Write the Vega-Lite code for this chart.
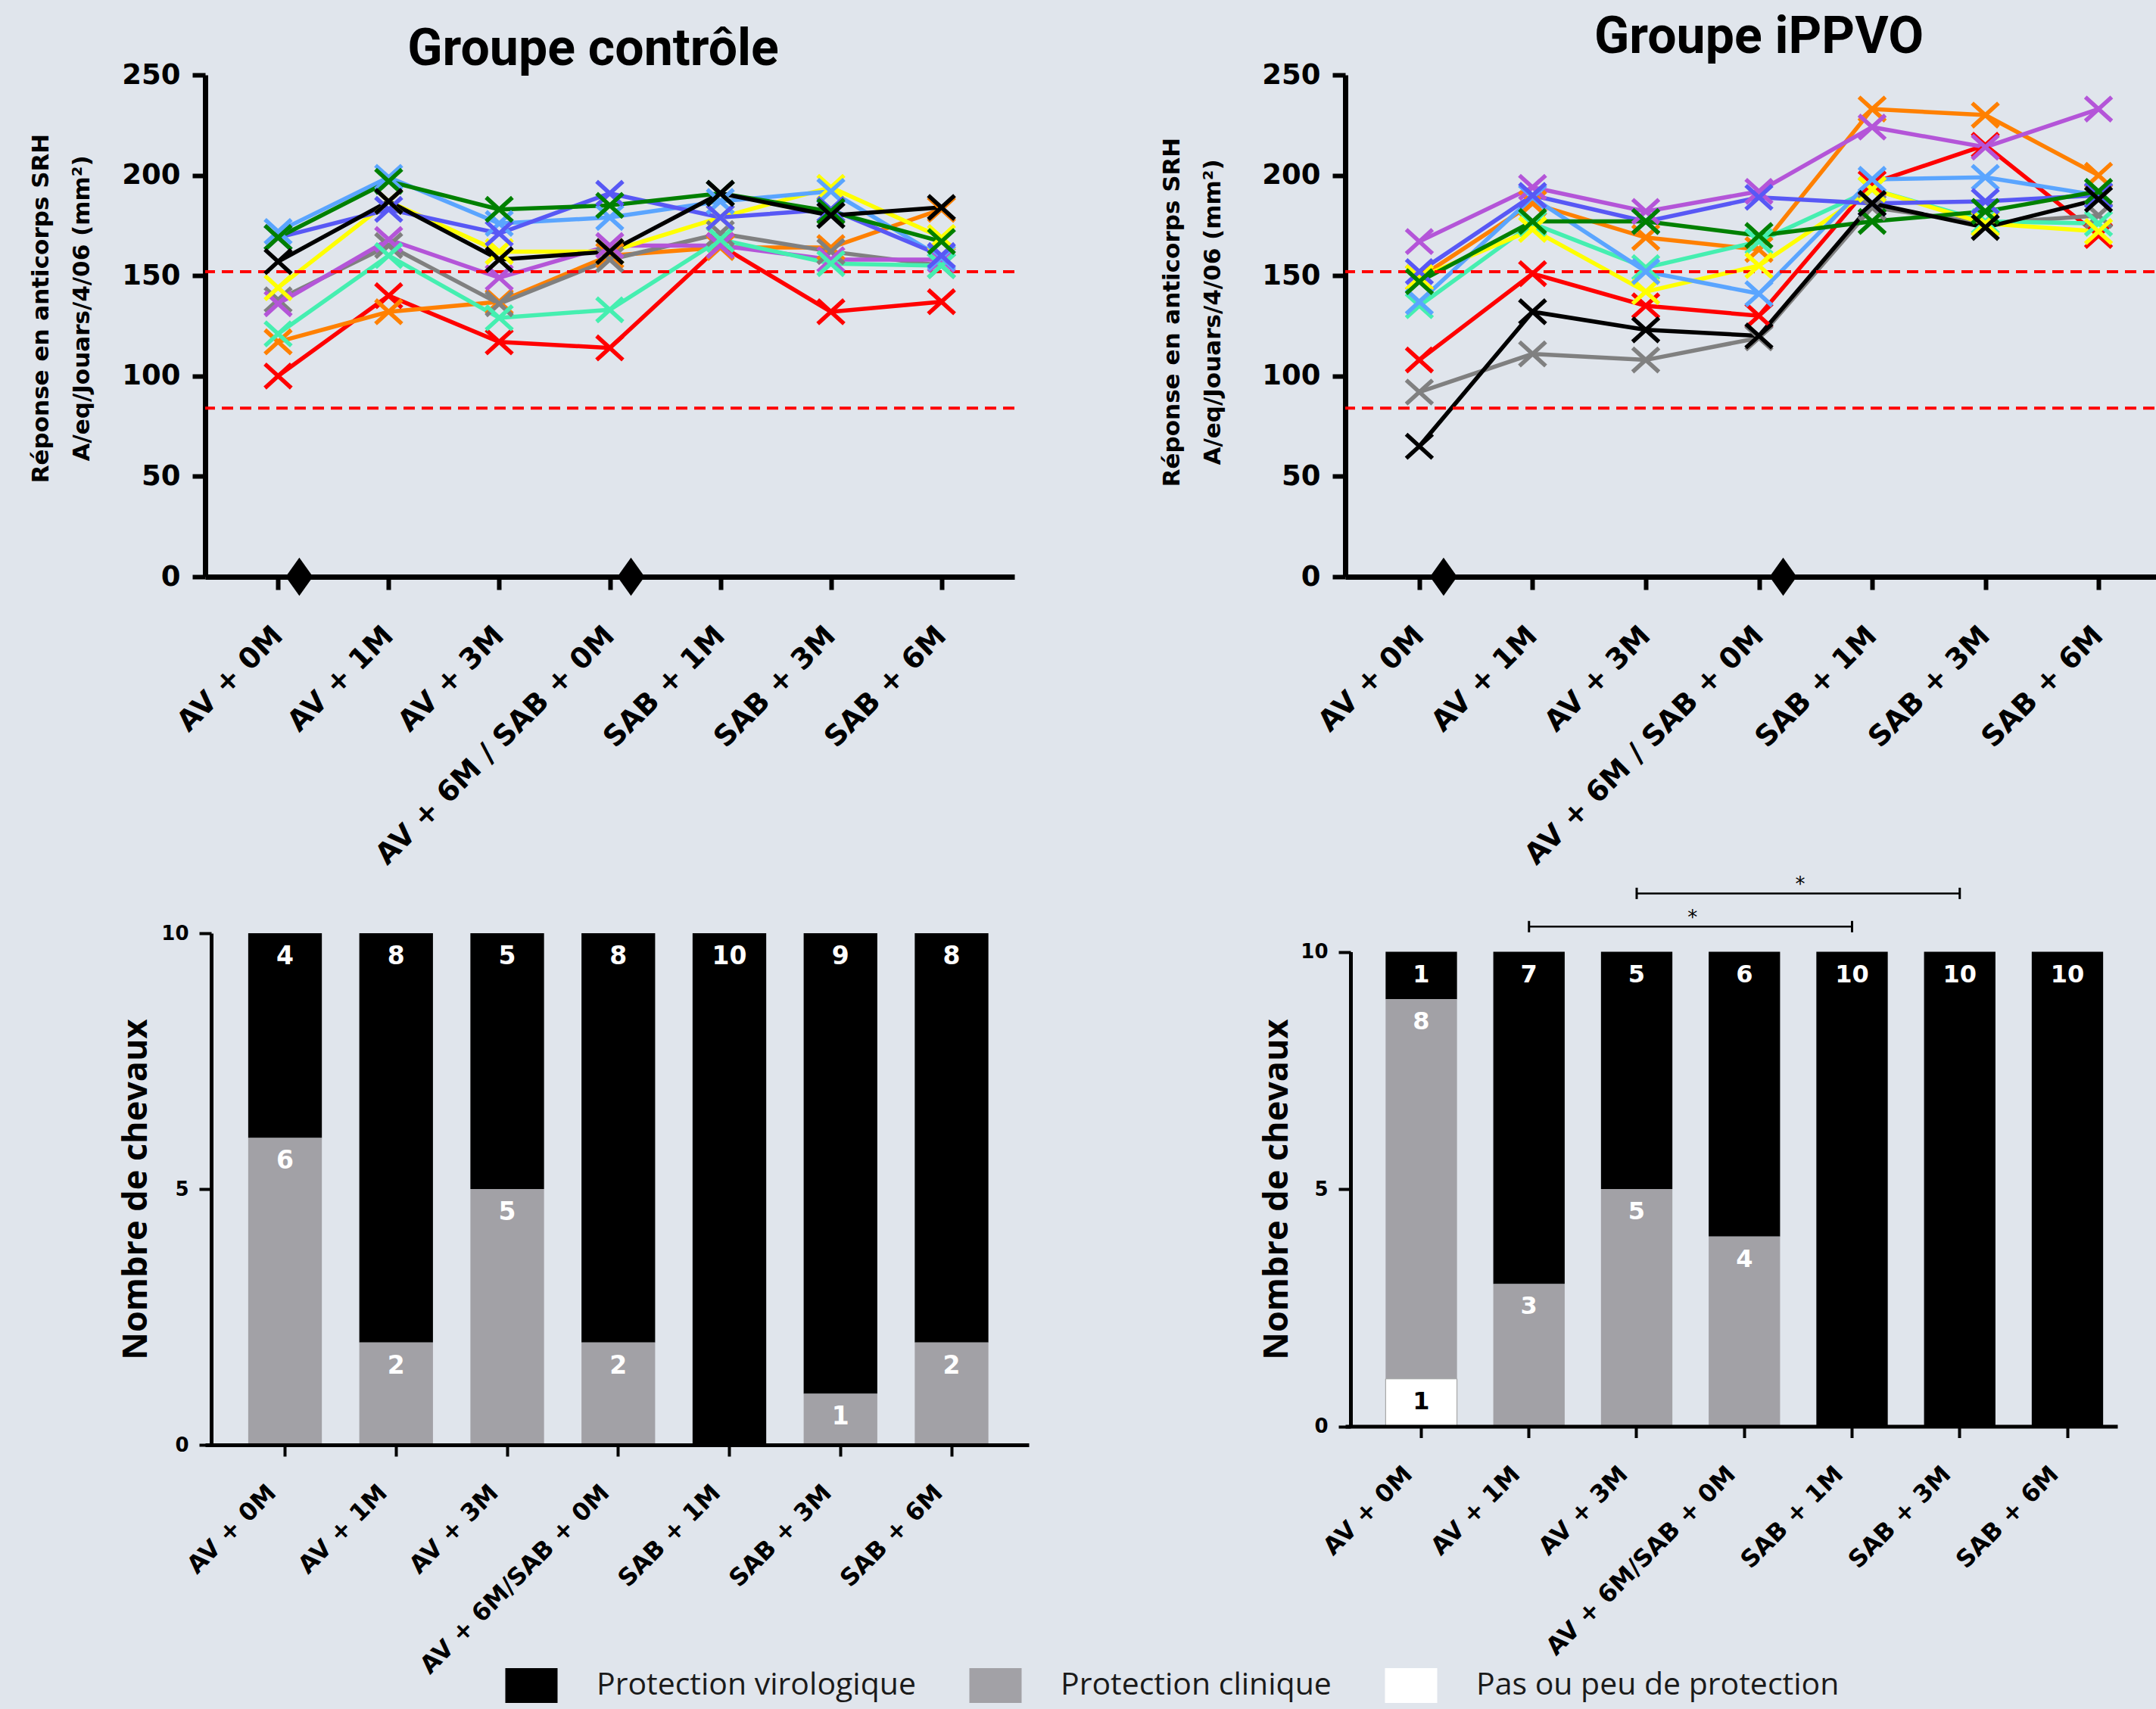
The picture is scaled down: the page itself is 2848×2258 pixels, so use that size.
{
"$schema": "https://vega.github.io/schema/vega-lite/v6.json",
"background": "#E0E5EC",
"autosize": {"type": "none"},
"padding": {"left": 271, "top": 99, "right": 2577, "bottom": 2159},
"columns": 2,
"spacing": {"row": 471, "column": 418},
"bounds": "flush",
"align": "each",
"config": {
  "view": {"stroke": null},
  "axis": {"grid": false, "domainColor": "#000", "tickColor": "#000", "labelColor": "#000", "titleColor": "#000", "labelFont": "DejaVu Sans", "labelFontWeight": "bold", "titleFont": "DejaVu Sans", "titleFontWeight": "bold"}
},
"datasets": {
  "controle": [
    {"cheval":"Cheval 1","temps":"AV + 0M","valeur":100},{"cheval":"Cheval 1","temps":"AV + 1M","valeur":140},{"cheval":"Cheval 1","temps":"AV + 3M","valeur":117},{"cheval":"Cheval 1","temps":"AV + 6M / SAB + 0M","valeur":114},{"cheval":"Cheval 1","temps":"SAB + 1M","valeur":165},{"cheval":"Cheval 1","temps":"SAB + 3M","valeur":132},{"cheval":"Cheval 1","temps":"SAB + 6M","valeur":137},
    {"cheval":"Cheval 2","temps":"AV + 0M","valeur":117},{"cheval":"Cheval 2","temps":"AV + 1M","valeur":132},{"cheval":"Cheval 2","temps":"AV + 3M","valeur":137},{"cheval":"Cheval 2","temps":"AV + 6M / SAB + 0M","valeur":160},{"cheval":"Cheval 2","temps":"SAB + 1M","valeur":164},{"cheval":"Cheval 2","temps":"SAB + 3M","valeur":164},{"cheval":"Cheval 2","temps":"SAB + 6M","valeur":183},
    {"cheval":"Cheval 3","temps":"AV + 0M","valeur":138},{"cheval":"Cheval 3","temps":"AV + 1M","valeur":165},{"cheval":"Cheval 3","temps":"AV + 3M","valeur":136},{"cheval":"Cheval 3","temps":"AV + 6M / SAB + 0M","valeur":158},{"cheval":"Cheval 3","temps":"SAB + 1M","valeur":171},{"cheval":"Cheval 3","temps":"SAB + 3M","valeur":162},{"cheval":"Cheval 3","temps":"SAB + 6M","valeur":155},
    {"cheval":"Cheval 4","temps":"AV + 0M","valeur":136},{"cheval":"Cheval 4","temps":"AV + 1M","valeur":168},{"cheval":"Cheval 4","temps":"AV + 3M","valeur":149},{"cheval":"Cheval 4","temps":"AV + 6M / SAB + 0M","valeur":165},{"cheval":"Cheval 4","temps":"SAB + 1M","valeur":165},{"cheval":"Cheval 4","temps":"SAB + 3M","valeur":158},{"cheval":"Cheval 4","temps":"SAB + 6M","valeur":158},
    {"cheval":"Cheval 5","temps":"AV + 0M","valeur":121},{"cheval":"Cheval 5","temps":"AV + 1M","valeur":160},{"cheval":"Cheval 5","temps":"AV + 3M","valeur":129},{"cheval":"Cheval 5","temps":"AV + 6M / SAB + 0M","valeur":133},{"cheval":"Cheval 5","temps":"SAB + 1M","valeur":168},{"cheval":"Cheval 5","temps":"SAB + 3M","valeur":156},{"cheval":"Cheval 5","temps":"SAB + 6M","valeur":155},
    {"cheval":"Cheval 6","temps":"AV + 0M","valeur":144},{"cheval":"Cheval 6","temps":"AV + 1M","valeur":187},{"cheval":"Cheval 6","temps":"AV + 3M","valeur":162},{"cheval":"Cheval 6","temps":"AV + 6M / SAB + 0M","valeur":162},{"cheval":"Cheval 6","temps":"SAB + 1M","valeur":179},{"cheval":"Cheval 6","temps":"SAB + 3M","valeur":194},{"cheval":"Cheval 6","temps":"SAB + 6M","valeur":169},
    {"cheval":"Cheval 7","temps":"AV + 0M","valeur":172},{"cheval":"Cheval 7","temps":"AV + 1M","valeur":199},{"cheval":"Cheval 7","temps":"AV + 3M","valeur":176},{"cheval":"Cheval 7","temps":"AV + 6M / SAB + 0M","valeur":179},{"cheval":"Cheval 7","temps":"SAB + 1M","valeur":187},{"cheval":"Cheval 7","temps":"SAB + 3M","valeur":192},{"cheval":"Cheval 7","temps":"SAB + 6M","valeur":159},
    {"cheval":"Cheval 8","temps":"AV + 0M","valeur":169},{"cheval":"Cheval 8","temps":"AV + 1M","valeur":183},{"cheval":"Cheval 8","temps":"AV + 3M","valeur":171},{"cheval":"Cheval 8","temps":"AV + 6M / SAB + 0M","valeur":191},{"cheval":"Cheval 8","temps":"SAB + 1M","valeur":179},{"cheval":"Cheval 8","temps":"SAB + 3M","valeur":183},{"cheval":"Cheval 8","temps":"SAB + 6M","valeur":160},
    {"cheval":"Cheval 9","temps":"AV + 0M","valeur":169},{"cheval":"Cheval 9","temps":"AV + 1M","valeur":197},{"cheval":"Cheval 9","temps":"AV + 3M","valeur":183},{"cheval":"Cheval 9","temps":"AV + 6M / SAB + 0M","valeur":185},{"cheval":"Cheval 9","temps":"SAB + 1M","valeur":191},{"cheval":"Cheval 9","temps":"SAB + 3M","valeur":182},{"cheval":"Cheval 9","temps":"SAB + 6M","valeur":167},
    {"cheval":"Cheval 10","temps":"AV + 0M","valeur":157},{"cheval":"Cheval 10","temps":"AV + 1M","valeur":187},{"cheval":"Cheval 10","temps":"AV + 3M","valeur":158},{"cheval":"Cheval 10","temps":"AV + 6M / SAB + 0M","valeur":162},{"cheval":"Cheval 10","temps":"SAB + 1M","valeur":191},{"cheval":"Cheval 10","temps":"SAB + 3M","valeur":180},{"cheval":"Cheval 10","temps":"SAB + 6M","valeur":184}
  ],
  "ippvo": [
    {"cheval":"Cheval 1","temps":"AV + 0M","valeur":108},{"cheval":"Cheval 1","temps":"AV + 1M","valeur":151},{"cheval":"Cheval 1","temps":"AV + 3M","valeur":135},{"cheval":"Cheval 1","temps":"AV + 6M / SAB + 0M","valeur":130},{"cheval":"Cheval 1","temps":"SAB + 1M","valeur":196},{"cheval":"Cheval 1","temps":"SAB + 3M","valeur":215},{"cheval":"Cheval 1","temps":"SAB + 6M","valeur":170},
    {"cheval":"Cheval 2","temps":"AV + 0M","valeur":149},{"cheval":"Cheval 2","temps":"AV + 1M","valeur":186},{"cheval":"Cheval 2","temps":"AV + 3M","valeur":169},{"cheval":"Cheval 2","temps":"AV + 6M / SAB + 0M","valeur":163},{"cheval":"Cheval 2","temps":"SAB + 1M","valeur":233},{"cheval":"Cheval 2","temps":"SAB + 3M","valeur":230},{"cheval":"Cheval 2","temps":"SAB + 6M","valeur":200},
    {"cheval":"Cheval 3","temps":"AV + 0M","valeur":92},{"cheval":"Cheval 3","temps":"AV + 1M","valeur":111},{"cheval":"Cheval 3","temps":"AV + 3M","valeur":108},{"cheval":"Cheval 3","temps":"AV + 6M / SAB + 0M","valeur":119},{"cheval":"Cheval 3","temps":"SAB + 1M","valeur":184},{"cheval":"Cheval 3","temps":"SAB + 3M","valeur":176},{"cheval":"Cheval 3","temps":"SAB + 6M","valeur":180},
    {"cheval":"Cheval 4","temps":"AV + 0M","valeur":167},{"cheval":"Cheval 4","temps":"AV + 1M","valeur":194},{"cheval":"Cheval 4","temps":"AV + 3M","valeur":182},{"cheval":"Cheval 4","temps":"AV + 6M / SAB + 0M","valeur":192},{"cheval":"Cheval 4","temps":"SAB + 1M","valeur":224},{"cheval":"Cheval 4","temps":"SAB + 3M","valeur":214},{"cheval":"Cheval 4","temps":"SAB + 6M","valeur":233},
    {"cheval":"Cheval 5","temps":"AV + 0M","valeur":135},{"cheval":"Cheval 5","temps":"AV + 1M","valeur":176},{"cheval":"Cheval 5","temps":"AV + 3M","valeur":154},{"cheval":"Cheval 5","temps":"AV + 6M / SAB + 0M","valeur":167},{"cheval":"Cheval 5","temps":"SAB + 1M","valeur":193},{"cheval":"Cheval 5","temps":"SAB + 3M","valeur":177},{"cheval":"Cheval 5","temps":"SAB + 6M","valeur":176},
    {"cheval":"Cheval 6","temps":"AV + 0M","valeur":149},{"cheval":"Cheval 6","temps":"AV + 1M","valeur":173},{"cheval":"Cheval 6","temps":"AV + 3M","valeur":142},{"cheval":"Cheval 6","temps":"AV + 6M / SAB + 0M","valeur":155},{"cheval":"Cheval 6","temps":"SAB + 1M","valeur":193},{"cheval":"Cheval 6","temps":"SAB + 3M","valeur":176},{"cheval":"Cheval 6","temps":"SAB + 6M","valeur":172},
    {"cheval":"Cheval 7","temps":"AV + 0M","valeur":137},{"cheval":"Cheval 7","temps":"AV + 1M","valeur":189},{"cheval":"Cheval 7","temps":"AV + 3M","valeur":152},{"cheval":"Cheval 7","temps":"AV + 6M / SAB + 0M","valeur":141},{"cheval":"Cheval 7","temps":"SAB + 1M","valeur":198},{"cheval":"Cheval 7","temps":"SAB + 3M","valeur":199},{"cheval":"Cheval 7","temps":"SAB + 6M","valeur":190},
    {"cheval":"Cheval 8","temps":"AV + 0M","valeur":152},{"cheval":"Cheval 8","temps":"AV + 1M","valeur":190},{"cheval":"Cheval 8","temps":"AV + 3M","valeur":177},{"cheval":"Cheval 8","temps":"AV + 6M / SAB + 0M","valeur":189},{"cheval":"Cheval 8","temps":"SAB + 1M","valeur":186},{"cheval":"Cheval 8","temps":"SAB + 3M","valeur":187},{"cheval":"Cheval 8","temps":"SAB + 6M","valeur":190},
    {"cheval":"Cheval 9","temps":"AV + 0M","valeur":147},{"cheval":"Cheval 9","temps":"AV + 1M","valeur":177},{"cheval":"Cheval 9","temps":"AV + 3M","valeur":177},{"cheval":"Cheval 9","temps":"AV + 6M / SAB + 0M","valeur":170},{"cheval":"Cheval 9","temps":"SAB + 1M","valeur":177},{"cheval":"Cheval 9","temps":"SAB + 3M","valeur":182},{"cheval":"Cheval 9","temps":"SAB + 6M","valeur":192},
    {"cheval":"Cheval 10","temps":"AV + 0M","valeur":65},{"cheval":"Cheval 10","temps":"AV + 1M","valeur":132},{"cheval":"Cheval 10","temps":"AV + 3M","valeur":123},{"cheval":"Cheval 10","temps":"AV + 6M / SAB + 0M","valeur":120},{"cheval":"Cheval 10","temps":"SAB + 1M","valeur":186},{"cheval":"Cheval 10","temps":"SAB + 3M","valeur":174},{"cheval":"Cheval 10","temps":"SAB + 6M","valeur":188}
  ],
  "seuils": [{"valeur": 152}, {"valeur": 84}],
  "vaccins": [{"temps": "AV + 0M", "valeur": 0}, {"temps": "AV + 6M / SAB + 0M", "valeur": 0}],
  "barres_controle": [
    {"temps":"AV + 0M","protection":"Protection virologique","n":4},{"temps":"AV + 0M","protection":"Protection clinique","n":6},
    {"temps":"AV + 1M","protection":"Protection virologique","n":8},{"temps":"AV + 1M","protection":"Protection clinique","n":2},
    {"temps":"AV + 3M","protection":"Protection virologique","n":5},{"temps":"AV + 3M","protection":"Protection clinique","n":5},
    {"temps":"AV + 6M/SAB + 0M","protection":"Protection virologique","n":8},{"temps":"AV + 6M/SAB + 0M","protection":"Protection clinique","n":2},
    {"temps":"SAB + 1M","protection":"Protection virologique","n":10},
    {"temps":"SAB + 3M","protection":"Protection virologique","n":9},{"temps":"SAB + 3M","protection":"Protection clinique","n":1},
    {"temps":"SAB + 6M","protection":"Protection virologique","n":8},{"temps":"SAB + 6M","protection":"Protection clinique","n":2}
  ],
  "barres_ippvo": [
    {"temps":"AV + 0M","protection":"Protection virologique","n":1},{"temps":"AV + 0M","protection":"Protection clinique","n":8},{"temps":"AV + 0M","protection":"Pas ou peu de protection","n":1},
    {"temps":"AV + 1M","protection":"Protection virologique","n":7},{"temps":"AV + 1M","protection":"Protection clinique","n":3},
    {"temps":"AV + 3M","protection":"Protection virologique","n":5},{"temps":"AV + 3M","protection":"Protection clinique","n":5},
    {"temps":"AV + 6M/SAB + 0M","protection":"Protection virologique","n":6},{"temps":"AV + 6M/SAB + 0M","protection":"Protection clinique","n":4},
    {"temps":"SAB + 1M","protection":"Protection virologique","n":10},
    {"temps":"SAB + 3M","protection":"Protection virologique","n":10},
    {"temps":"SAB + 6M","protection":"Protection virologique","n":10}
  ],
  "crochets": [
    {"de": "AV + 1M", "a": "SAB + 1M", "niveau": 10.53, "signif": "*"},
    {"de": "AV + 3M", "a": "SAB + 3M", "niveau": 11.23, "signif": "*"}
  ]
},
"concat": [
  {
    "width": 1069, "height": 663,
    "title": {"text": "Groupe contrôle", "font": "Roboto", "fontSize": 68, "fontWeight": "bold", "color": "#000", "anchor": "middle", "frame": "group", "baseline": "alphabetic", "dx": -22, "offset": -74},
    "layer": [
      {"data": {"name": "controle"}, "mark": {"type": "line", "strokeWidth": 5.5},
       "encoding": {
         "x": {"field": "temps", "type": "ordinal", "scale": {"type": "point", "padding": 0.66, "domain": ["AV + 0M","AV + 1M","AV + 3M","AV + 6M / SAB + 0M","SAB + 1M","SAB + 3M","SAB + 6M"]},
               "axis": {"title": null, "labelAngle": -45, "labelAlign": "right", "labelBaseline": "middle", "labelFontSize": 38, "labelPadding": 55, "tickSize": 17, "tickWidth": 6, "domainWidth": 7, "labelLimit": 1000, "labelOverlap": false}},
         "y": {"field": "valeur", "type": "quantitative", "scale": {"domain": [0, 250], "nice": false},
               "axis": {"title": ["Réponse en anticorps SRH", "A/eq/Jouars/4/06 (mm²)"], "values": [0,50,100,150,200,250], "tickSize": 17, "tickWidth": 6, "domainWidth": 7, "labelFontSize": 37, "labelPadding": 16, "titleFontSize": 31, "titleLineHeight": 54, "titleX": -201, "titleY": 308}},
         "stroke": {"field": "cheval", "type": "nominal", "scale": {"domain": ["Cheval 1","Cheval 2","Cheval 3","Cheval 4","Cheval 5","Cheval 6","Cheval 7","Cheval 8","Cheval 9","Cheval 10"], "range": ["#FF0000","#FF8000","#808080","#B455D8","#45EFB0","#FFFF00","#5AA5FF","#5858F5","#008000","#000000"]}, "legend": null}
       }},
      {"data": {"name": "seuils"}, "mark": {"type": "rule", "color": "#FF0000", "strokeWidth": 4, "strokeDash": [15, 9]},
       "encoding": {"y": {"field": "valeur", "type": "quantitative"}}},
      {"data": {"name": "controle"}, "mark": {"type": "point", "shape": "M-1.1,-1L1.1,1M-1.1,1L1.1,-1", "size": 1000, "filled": false, "strokeWidth": 5.5, "opacity": 1},
       "encoding": {
         "x": {"field": "temps", "type": "ordinal"},
         "y": {"field": "valeur", "type": "quantitative"},
         "stroke": {"field": "cheval", "type": "nominal", "legend": null}
       }},
      {"data": {"name": "vaccins"}, "mark": {"type": "point", "shape": "M0,-1.4L1,0L0,1.4L-1,0Z", "size": 1296, "filled": true, "color": "#000", "opacity": 1, "xOffset": 28},
       "encoding": {"x": {"field": "temps", "type": "ordinal"}, "y": {"field": "valeur", "type": "quantitative"}}}
    ]
  },
  {
    "width": 1093, "height": 663,
    "title": {"text": "Groupe iPPVO", "font": "Roboto", "fontSize": 68, "fontWeight": "bold", "color": "#000", "anchor": "middle", "frame": "group", "baseline": "alphabetic", "dx": 0, "offset": -58},
    "layer": [
      {"data": {"name": "ippvo"}, "mark": {"type": "line", "strokeWidth": 5.5},
       "encoding": {
         "x": {"field": "temps", "type": "ordinal", "scale": {"type": "point", "padding": 0.655, "domain": ["AV + 0M","AV + 1M","AV + 3M","AV + 6M / SAB + 0M","SAB + 1M","SAB + 3M","SAB + 6M"]},
               "axis": {"title": null, "labelAngle": -45, "labelAlign": "right", "labelBaseline": "middle", "labelFontSize": 38, "labelPadding": 55, "tickSize": 17, "tickWidth": 6, "domainWidth": 7, "labelLimit": 1000, "labelOverlap": false}},
         "y": {"field": "valeur", "type": "quantitative", "scale": {"domain": [0, 250], "nice": false},
               "axis": {"title": ["Réponse en anticorps SRH", "A/eq/Jouars/4/06 (mm²)"], "values": [0,50,100,150,200,250], "tickSize": 17, "tickWidth": 6, "domainWidth": 7, "labelFontSize": 37, "labelPadding": 16, "titleFontSize": 31, "titleLineHeight": 54, "titleX": -213, "titleY": 313}},
         "stroke": {"field": "cheval", "type": "nominal", "scale": {"domain": ["Cheval 1","Cheval 2","Cheval 3","Cheval 4","Cheval 5","Cheval 6","Cheval 7","Cheval 8","Cheval 9","Cheval 10"], "range": ["#FF0000","#FF8000","#808080","#B455D8","#45EFB0","#FFFF00","#5AA5FF","#5858F5","#008000","#000000"]}, "legend": null}
       }},
      {"data": {"name": "seuils"}, "mark": {"type": "rule", "color": "#FF0000", "strokeWidth": 4, "strokeDash": [15, 9]},
       "encoding": {"y": {"field": "valeur", "type": "quantitative"}}},
      {"data": {"name": "ippvo"}, "mark": {"type": "point", "shape": "M-1.1,-1L1.1,1M-1.1,1L1.1,-1", "size": 1000, "filled": false, "strokeWidth": 5.5, "opacity": 1},
       "encoding": {
         "x": {"field": "temps", "type": "ordinal"},
         "y": {"field": "valeur", "type": "quantitative"},
         "stroke": {"field": "cheval", "type": "nominal", "legend": null}
       }},
      {"data": {"name": "vaccins"}, "mark": {"type": "point", "shape": "M0,-1.4L1,0L0,1.4L-1,0Z", "size": 1296, "filled": true, "color": "#000", "opacity": 1, "xOffset": 32},
       "encoding": {"x": {"field": "temps", "type": "ordinal"}, "y": {"field": "valeur", "type": "quantitative"}}}
    ]
  },
  {
    "width": 1088, "height": 676,
    "data": {"name": "barres_controle"},
    "layer": [
      {"mark": {"type": "bar"},
       "encoding": {
         "x": {"field": "temps", "type": "nominal", "scale": {"type": "band", "domain": ["AV + 0M","AV + 1M","AV + 3M","AV + 6M/SAB + 0M","SAB + 1M","SAB + 3M","SAB + 6M"], "paddingInner": 0.337, "paddingOuter": 0.3756, "align": 0.516},
               "axis": {"title": null, "labelAngle": -45, "labelAlign": "right", "labelBaseline": "middle", "labelFontSize": 32, "labelPadding": 43, "labelOffset": -17, "tickSize": 15, "tickWidth": 4, "domainWidth": 5, "labelLimit": 1000, "labelOverlap": false, "zindex": 1}},
         "y": {"field": "n", "type": "quantitative", "stack": "zero", "scale": {"domain": [0, 10], "nice": false},
               "axis": {"title": "Nombre de chevaux", "values": [0, 5, 10], "format": "d", "titleFont": "Open Sans", "titleFontSize": 45, "titleFontWeight": "bold", "titleX": -77, "labelFontSize": 26, "labelPadding": 14, "tickSize": 16, "tickWidth": 4, "domainWidth": 5, "offset": -8, "zindex": 1}},
         "fill": {"field": "protection", "type": "nominal", "scale": {"domain": ["Protection virologique", "Protection clinique", "Pas ou peu de protection"], "range": ["#000000", "#A2A1A6", "#FFFFFF"]},
                  "legend": {"orient": "none", "legendX": 407, "legendY": 2104, "direction": "horizontal", "columns": 3, "title": null, "symbolType": "M-1.5,-1H1.5V1H-1.5Z", "symbolSize": 2116, "labelFont": "Open Sans", "labelFontSize": 41, "labelColor": "#1a1a1a", "labelOffset": 62, "columnPadding": 66, "labelLimit": 1000, "padding": 0, "symbolStrokeWidth": 2,
                             "encode": {"symbols": {"update": {"stroke": {"signal": "datum.value === 'Pas ou peu de protection' ? '#999999' : 'transparent'"}}}}}},
         "order": {"field": "protection", "type": "ordinal", "sort": "ascending"},
         "stroke": {"condition": {"test": "datum.protection === 'Pas ou peu de protection'", "value": "#999999"}, "value": "transparent"}
       }},
      {"mark": {"type": "text", "font": "DejaVu Sans", "fontWeight": "bold", "fontSize": 33, "baseline": "middle", "dy": 31},
       "encoding": {
         "x": {"field": "temps", "type": "nominal"},
         "y": {"field": "n", "type": "quantitative", "stack": "zero"},
         "detail": {"field": "protection", "type": "nominal"},
         "order": {"field": "protection", "type": "ordinal", "sort": "ascending"},
         "text": {"field": "n", "type": "quantitative"},
         "color": {"condition": {"test": "datum.protection === 'Pas ou peu de protection'", "value": "#000"}, "value": "#FFF"}
       }}
    ]
  },
  {
    "width": 1020, "height": 676,
    "layer": [
      {"data": {"name": "barres_ippvo"}, "mark": {"type": "bar"},
       "encoding": {
         "x": {"field": "temps", "type": "nominal", "scale": {"type": "band", "domain": ["AV + 0M","AV + 1M","AV + 3M","AV + 6M/SAB + 0M","SAB + 1M","SAB + 3M","SAB + 6M"], "paddingInner": 0.337, "paddingOuter": 0.2537, "align": 0.739},
               "axis": {"title": null, "labelAngle": -45, "labelAlign": "right", "labelBaseline": "middle", "labelFontSize": 32, "labelPadding": 43, "labelOffset": -17, "tickSize": 15, "tickWidth": 4, "domainWidth": 5, "labelLimit": 1000, "labelOverlap": false, "offset": -24.5, "zindex": 1}},
         "y": {"field": "n", "type": "quantitative", "stack": "zero", "scale": {"domain": [0, 10], "nice": false, "range": [651.5, 24.5]},
               "axis": {"title": "Nombre de chevaux", "values": [0, 5, 10], "format": "d", "titleFont": "Open Sans", "titleFontSize": 45, "titleFontWeight": "bold", "titleX": -75, "labelFontSize": 26, "labelPadding": 14, "tickSize": 16, "tickWidth": 4, "domainWidth": 5, "offset": -7, "zindex": 1}},
         "fill": {"field": "protection", "type": "nominal", "scale": {"domain": ["Protection virologique", "Protection clinique", "Pas ou peu de protection"], "range": ["#000000", "#A2A1A6", "#FFFFFF"]},
                  "legend": {"orient": "none", "legendX": 407, "legendY": 2104, "direction": "horizontal", "columns": 3, "title": null, "symbolType": "M-1.5,-1H1.5V1H-1.5Z", "symbolSize": 2116, "labelFont": "Open Sans", "labelFontSize": 41, "labelColor": "#1a1a1a", "labelOffset": 62, "columnPadding": 66, "labelLimit": 1000, "padding": 0, "symbolStrokeWidth": 2,
                             "encode": {"symbols": {"update": {"stroke": {"signal": "datum.value === 'Pas ou peu de protection' ? '#999999' : 'transparent'"}}}}}},
         "order": {"field": "protection", "type": "ordinal", "sort": "ascending"},
         "stroke": {"condition": {"test": "datum.protection === 'Pas ou peu de protection'", "value": "#999999"}, "value": "transparent"}
       }},
      {"data": {"name": "barres_ippvo"}, "mark": {"type": "text", "font": "DejaVu Sans", "fontWeight": "bold", "fontSize": 32, "baseline": "middle", "dy": 30},
       "encoding": {
         "x": {"field": "temps", "type": "nominal"},
         "y": {"field": "n", "type": "quantitative", "stack": "zero"},
         "detail": {"field": "protection", "type": "nominal"},
         "order": {"field": "protection", "type": "ordinal", "sort": "ascending"},
         "text": {"field": "n", "type": "quantitative"},
         "color": {"condition": {"test": "datum.protection === 'Pas ou peu de protection'", "value": "#000"}, "value": "#FFF"}
       }},
      {"data": {"name": "crochets"}, "mark": {"type": "rule", "color": "#000", "strokeWidth": 2.5},
       "encoding": {
         "x": {"field": "de", "type": "nominal"},
         "x2": {"field": "a"},
         "y": {"field": "niveau", "type": "quantitative"}
       }},
      {"data": {"name": "crochets"}, "transform": [{"fold": ["de", "a"], "as": ["bout", "temps"]}],
       "mark": {"type": "point", "shape": "M0,-1L0,1", "size": 225, "filled": false, "strokeWidth": 3, "color": "#000", "opacity": 1},
       "encoding": {
         "x": {"field": "temps", "type": "nominal"},
         "y": {"field": "niveau", "type": "quantitative"}
       }},
      {"data": {"name": "crochets"}, "mark": {"type": "text", "font": "DejaVu Sans", "fontSize": 26, "baseline": "alphabetic", "dy": -3},
       "encoding": {
         "x": {"field": "de", "type": "nominal", "bandPosition": 2.79},
         "y": {"field": "niveau", "type": "quantitative"},
         "text": {"field": "signif"}
       }}
    ]
  }
]
}
